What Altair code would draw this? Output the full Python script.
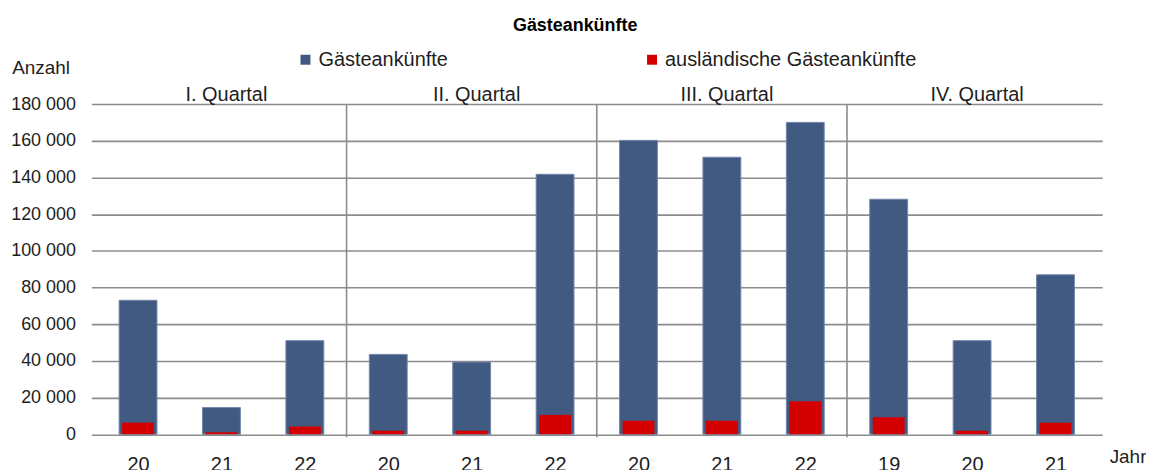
import altair as alt
import pandas as pd

# ---- data ----
quarters = ["I. Quartal", "II. Quartal", "III. Quartal", "IV. Quartal"]
years = ["20", "21", "22", "20", "21", "22", "20", "21", "22", "19", "20", "21"]
bar_quarter = ["I. Quartal"] * 3 + ["II. Quartal"] * 3 + ["III. Quartal"] * 3 + ["IV. Quartal"] * 3
guests = [73000, 14500, 51000, 43500, 39300, 141700, 160200, 151000, 170000, 128100, 51000, 86900]
foreign = [6300, 1000, 4200, 1850, 1850, 10500, 7300, 7300, 18000, 9300, 1850, 6200]
series = ["Gästeankünfte", "ausländische Gästeankünfte"]
y_ticks = [0, 20000, 40000, 60000, 80000, 100000, 120000, 140000, 160000, 180000]
title_text = ["Gästeankünfte"]

BLUE = "#405A82"
RED = "#D40000"
TXT = "#1e1e1e"
GRID = "#8c8c8c"
FONT = "Liberation Sans"

W, H = 1015, 331.5

pos = [i + 0.5 for i in range(len(years))]
df_g = pd.DataFrame({"pos": pos, "year": years, "quarter": bar_quarter,
                     "value": guests, "series": series[0]})
df_f = pd.DataFrame({"pos": pos, "year": years, "quarter": bar_quarter,
                     "value": foreign, "series": series[1]})
# group boundaries and group centers (category index based)
sep_df = pd.DataFrame({"pos": [3, 6, 9]})
q_df = pd.DataFrame({"quarter": quarters, "pos": [1.5, 4.5, 7.5, 10.5]})
t_df = pd.DataFrame({"t": title_text})

year_arr = "[" + ",".join("'%s'" % y for y in years) + "]"

x_enc = alt.X(
    "pos:Q",
    scale=alt.Scale(domain=[0, 12], nice=False, zero=False),
    axis=alt.Axis(
        values=pos,
        labelExpr=year_arr + "[floor(datum.value)]",
        title="Jahr",
        titleAngle=0,
        titleAlign="left",
        titleBaseline="alphabetic",
        titleX=1022,
        titleY=28,
        titleFontSize=19,
        titleFontWeight="normal",
        titleColor=TXT,
        titleFont=FONT,
        labelFontSize=20,
        labelFont=FONT,
        labelColor=TXT,
        labelPadding=20.5,
        labelAngle=0,
        labelFlush=False,
        labelOverlap=False,
        ticks=False,
        domain=False,
        grid=False,
    ),
)

y_enc = alt.Y(
    "value:Q",
    scale=alt.Scale(domain=[0, 180000], nice=False),
    axis=alt.Axis(
        values=y_ticks,
        labelExpr="replace(format(datum.value, ','), ',', ' ')",
        title="Anzahl",
        titleAngle=0,
        titleAlign="left",
        titleBaseline="alphabetic",
        titleX=-80,
        titleY=-30.5,
        titleFontSize=19,
        titleFontWeight="normal",
        titleColor=TXT,
        titleFont=FONT,
        labelFontSize=18,
        labelFont=FONT,
        labelColor=TXT,
        labelPadding=16,
        ticks=False,
        domain=False,
        grid=True,
        gridColor=GRID,
        gridWidth=1.6,
    ),
)

color_enc = alt.Color(
    "series:N",
    scale=alt.Scale(domain=series, range=[BLUE, RED]),
    legend=alt.Legend(
        orient="none",
        legendX=205,
        legendY=-54.5,
        direction="horizontal",
        title=None,
        symbolType="square",
        symbolSize=100,
        symbolStrokeWidth=0,
        labelFontSize=20,
        labelFont=FONT,
        labelColor=TXT,
        labelOffset=3,
        labelLimit=400,
        columnPadding=194,
        padding=0,
    ),
)

seps = alt.Chart(sep_df).mark_rule(color=GRID, strokeWidth=1.6).encode(
    x=x_enc, y=alt.value(0), y2=alt.value(H + 3)
)

bars_g = alt.Chart(df_g).mark_bar(size=38, stroke="#7486a8", strokeWidth=1).encode(
    x=x_enc, y=y_enc, color=color_enc
)
bars_f = alt.Chart(df_f).mark_bar(size=32).encode(
    x=x_enc, y=y_enc, color=color_enc
)

q_text = alt.Chart(q_df).mark_text(
    fontSize=20, font=FONT, color=TXT, align="center", baseline="alphabetic", dx=5
).encode(x=x_enc, y=alt.value(-3.5), text="quarter:N")

title = alt.Chart(t_df).mark_text(
    fontSize=18, font=FONT, fontWeight="bold", color="#000000",
    align="center", baseline="alphabetic"
).encode(x=alt.value(577.5 - 91.7), y=alt.value(30 - 103.5), text="t:N")

chart = alt.layer(seps, bars_g, bars_f, q_text, title).properties(
    width=W,
    height=H,
    padding={"left": 83.7, "top": 95.5, "right": 44, "bottom": 34.5},
    autosize=alt.AutoSizeParams(type="none"),
    background="white",
).configure_view(stroke=None)

chart.save("out.html", embed_options={"renderer": "svg", "actions": False})
